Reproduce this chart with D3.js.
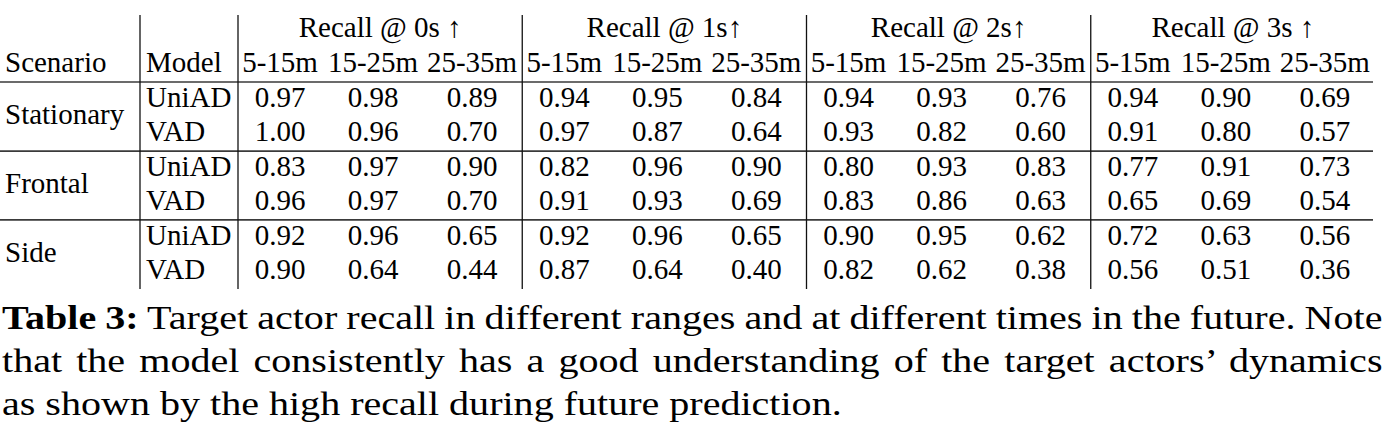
<!DOCTYPE html>
<html>
<head>
<meta charset="utf-8">
<script src="https://d3js.org/d3.v7.min.js"></script>
<style>
  body { margin: 0; background: #fff; }
</style>
</head>
<body>
<div id="chart"></div>
<script>
// table content
const scenarios = ["Stationary", "Frontal", "Side"];
const models = ["UniAD", "VAD"];
const horizons = ["Recall @ 0s \u2191", "Recall @ 1s\u2191", "Recall @ 2s\u2191", "Recall @ 3s \u2191"];
const ranges = ["5-15m", "15-25m", "25-35m"];

// one row per scenario/model, 4 horizons x 3 ranges
const stationaryUniAD = [0.97, 0.98, 0.89, 0.94, 0.95, 0.84, 0.94, 0.93, 0.76, 0.94, 0.90, 0.69];
const stationaryVAD   = [1.00, 0.96, 0.70, 0.97, 0.87, 0.64, 0.93, 0.82, 0.60, 0.91, 0.80, 0.57];
const frontalUniAD    = [0.83, 0.97, 0.90, 0.82, 0.96, 0.90, 0.80, 0.93, 0.83, 0.77, 0.91, 0.73];
const frontalVAD      = [0.96, 0.97, 0.70, 0.91, 0.93, 0.69, 0.83, 0.86, 0.63, 0.65, 0.69, 0.54];
const sideUniAD       = [0.92, 0.96, 0.65, 0.92, 0.96, 0.65, 0.90, 0.95, 0.62, 0.72, 0.63, 0.56];
const sideVAD         = [0.90, 0.64, 0.44, 0.87, 0.64, 0.40, 0.82, 0.62, 0.38, 0.56, 0.51, 0.36];

const captionLabel = "Table 3:";
const captionLines = [
  " Target actor recall in different ranges and at different times in the future. Note",
  "that the model consistently has a good understanding of the target actors\u2019 dynamics",
  "as shown by the high recall during future prediction."
];

const rows = [stationaryUniAD, stationaryVAD, frontalUniAD, frontalVAD, sideUniAD, sideVAD];

const FONT = '"Liberation Serif"';

function draw() {
  const width = 1391, height = 428;
  const fs = 29;

  const svg = d3.select("#chart").append("svg")
    .attr("width", width)
    .attr("height", height);

  // horizontal layout
  const group = d3.scaleBand()
    .domain(horizons)
    .range([238, 1375]);
  const sub = d3.scaleOrdinal()
    .domain(ranges)
    .range([42, 135, 234]);
  const colX = (h, r) => group(h) + sub(r);

  // vertical layout
  const rowY = d3.scaleLinear().domain([0, rows.length - 1]).range([107, 279]);
  const headTop = 37, headSub = 72;
  const ruleY = (a, b) => (a + b) / 2 - 7.5;

  const rules = svg.append("g");
  // horizontal rules
  [ruleY(headSub, rowY(0)), ruleY(rowY(1), rowY(2)), ruleY(rowY(3), rowY(4))].forEach(y => {
    rules.append("line")
      .attr("x1", 0).attr("x2", 1373)
      .attr("y1", y).attr("y2", y)
      .attr("stroke", "#3a3a3a").attr("stroke-width", 1.6);
  });
  // vertical rules
  [140].concat(horizons.map(h => group(h))).forEach(x => {
    rules.append("line")
      .attr("x1", x).attr("x2", x)
      .attr("y1", 15).attr("y2", 289)
      .attr("stroke", "#111").attr("stroke-width", 1.3);
  });

  const txt = svg.append("g");
  const put = (x, y, s, anchor) => txt.append("text")
    .style("font-family", FONT)
    .attr("font-size", fs)
    .attr("x", x).attr("y", y)
    .attr("text-anchor", anchor || "start")
    .text(s);

  // header
  put(5, headSub, "Scenario");
  put(146, headSub, "Model");
  horizons.forEach(h => put(group(h) + group.bandwidth() / 2, headTop, h, "middle"));
  horizons.forEach(h => ranges.forEach(r => put(colX(h, r), headSub, r, "middle")));

  // scenario and model labels
  scenarios.forEach((s, i) => put(5, (rowY(i * 2) + rowY(i * 2 + 1)) / 2, s));
  rows.forEach((vals, i) => put(146, rowY(i), models[i % 2]));

  // values
  const fmt = d3.format(".2f");
  rows.forEach((vals, i) => vals.forEach((v, j) =>
    put(colX(horizons[Math.floor(j / 3)], ranges[j % 3]), rowY(i), fmt(v), "middle")));

  // caption: widened serif, justified like the paper
  const cap = svg.append("g");
  const capY = [329, 372, 415];
  const capW = [1381, 1381, 840];
  const lines = captionLines.map((line, i) => {
    const g = cap.append("g").attr("transform", `translate(2,${capY[i]})`);
    const t = g.append("text")
      .style("font-family", FONT)
      .attr("font-size", 33)
      .attr("x", 0).attr("y", 0);
    if (i === 0) t.append("tspan").attr("font-weight", "bold").text(captionLabel);
    t.append("tspan").text(line);
    const spaces = (i === 0 ? captionLabel + line : line).split(" ").length - 1;
    return {g, t, spaces, natural: t.node().getComputedTextLength()};
  });
  // horizontal stretch taken from the last (unjustified) line
  const sx = capW[2] / lines[2].natural;
  lines.forEach((l, i) => {
    l.g.attr("transform", `translate(2,${capY[i]}) scale(${sx},1)`);
    if (i < 2) {
      l.t.attr("word-spacing", (capW[i] / sx - l.natural) / l.spaces);
    }
  });
}
draw();
</script>
</body>
</html>
